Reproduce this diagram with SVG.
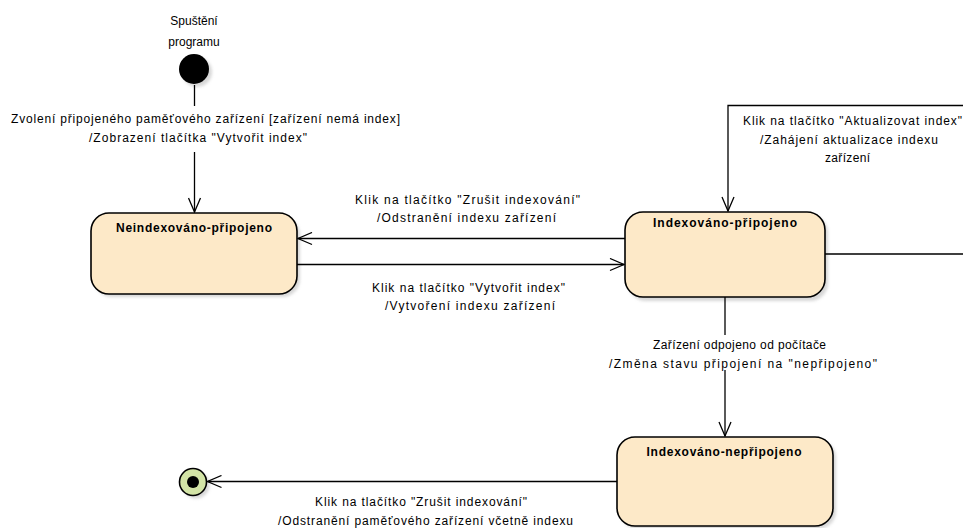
<svg xmlns="http://www.w3.org/2000/svg" width="963" height="528" viewBox="0 0 963 528">
<defs>
<marker id="arr" viewBox="0 0 16 14" refX="15" refY="7" markerWidth="16" markerHeight="14" markerUnits="userSpaceOnUse" orient="auto">
<path d="M1,1 L15,7 L1,13" fill="none" stroke="#000" stroke-width="1.3"/>
</marker>
<filter id="sh" x="-10%" y="-10%" width="130%" height="130%"><feGaussianBlur stdDeviation="1.5"/></filter>
</defs>
<style>
.st{fill:#fde9c8;stroke:#000;stroke-width:1.6}
.shd{fill:#bdbdbd;opacity:0.6;filter:url(#sh)}
.ttl{font-family:"Liberation Sans",Arial,sans-serif;font-size:12px;font-weight:bold;fill:#000;text-anchor:middle}
.lbl{font-family:"Liberation Sans",Arial,sans-serif;font-size:12px;fill:#000}
.ln{fill:none;stroke:#000;stroke-width:1.3}
</style>
<rect width="963" height="528" fill="#fff"/>

<g id="start">
<circle cx="197" cy="72" r="15" class="shd"/>
<circle cx="194" cy="69" r="15" fill="#000"/>
<text class="lbl" x="194" y="25" text-anchor="middle">Spuštění</text>
<text class="lbl" x="194" y="46" text-anchor="middle">programu</text>
</g>

<g id="n1">
<rect x="94" y="217" width="206" height="80" rx="18" class="shd"/>
<rect x="91" y="213" width="206" height="81" rx="18" class="st"/>
<text class="ttl" x="194" y="232" textLength="156" lengthAdjust="spacing">Neindexováno-připojeno</text>
</g>

<g id="n2">
<rect x="628" y="215" width="200" height="86" rx="18" class="shd"/>
<rect x="625" y="212" width="200" height="85" rx="18" class="st"/>
<text class="ttl" x="725" y="227" textLength="144" lengthAdjust="spacing">Indexováno-připojeno</text>
</g>

<g id="n3">
<rect x="620" y="440" width="216" height="89" rx="18" class="shd"/>
<rect x="617" y="437" width="216" height="89" rx="18" class="st"/>
<text class="ttl" x="724" y="456" textLength="155" lengthAdjust="spacing">Indexováno-nepřipojeno</text>
</g>

<g id="final">
<circle cx="196" cy="485" r="13.5" class="shd"/>
<circle cx="193" cy="482" r="13.5" fill="#d3e4a6" stroke="#000" stroke-width="1.6"/>
<circle cx="193" cy="482" r="6" fill="#000"/>
</g>

<g id="connectors">
<path class="ln" d="M194.5,85 V106"/>
<path class="ln" d="M194.5,152 V212" marker-end="url(#arr)"/>
<path class="ln" d="M625,238.5 H298" marker-end="url(#arr)"/>
<path class="ln" d="M297,264.5 H624" marker-end="url(#arr)"/>
<path class="ln" d="M825,254 H963 M963,105.5 H728 V211" marker-end="url(#arr)"/>
<path class="ln" d="M725,297 V335"/>
<path class="ln" d="M725,370 V436" marker-end="url(#arr)"/>
<path class="ln" d="M617,481.5 H207.5" marker-end="url(#arr)"/>
</g>

<g id="labels">
<text class="lbl" x="11" y="123" textLength="389" lengthAdjust="spacing">Zvolení připojeného paměťového zařízení [zařízení nemá index]</text>
<text class="lbl" x="89" y="142" textLength="218" lengthAdjust="spacing">/Zobrazení tlačítka "Vytvořit index"</text>
<text class="lbl" x="355" y="204" textLength="225" lengthAdjust="spacing">Klik na tlačítko "Zrušit indexování"</text>
<text class="lbl" x="377" y="222" textLength="179" lengthAdjust="spacing">/Odstranění indexu zařízení</text>
<text class="lbl" x="372" y="292" textLength="193" lengthAdjust="spacing">Klik na tlačítko "Vytvořit index"</text>
<text class="lbl" x="385" y="310" textLength="170" lengthAdjust="spacing">/Vytvoření indexu zařízení</text>
<text class="lbl" x="743" y="125" textLength="219" lengthAdjust="spacing">Klik na tlačítko "Aktualizovat index"</text>
<text class="lbl" x="760" y="144" textLength="178" lengthAdjust="spacing">/Zahájení aktualizace indexu</text>
<text class="lbl" x="825" y="162" textLength="45" lengthAdjust="spacing">zařízení</text>
<text class="lbl" x="653" y="349" textLength="173" lengthAdjust="spacing">Zařízení odpojeno od počítače</text>
<text class="lbl" x="609" y="368" textLength="268" lengthAdjust="spacing">/Změna stavu připojení na "nepřipojeno"</text>
<text class="lbl" x="315" y="506" textLength="212" lengthAdjust="spacing">Klik na tlačítko "Zrušit indexování"</text>
<text class="lbl" x="278" y="525" textLength="295" lengthAdjust="spacing">/Odstranění paměťového zařízení včetně indexu</text>
</g>
</svg>
